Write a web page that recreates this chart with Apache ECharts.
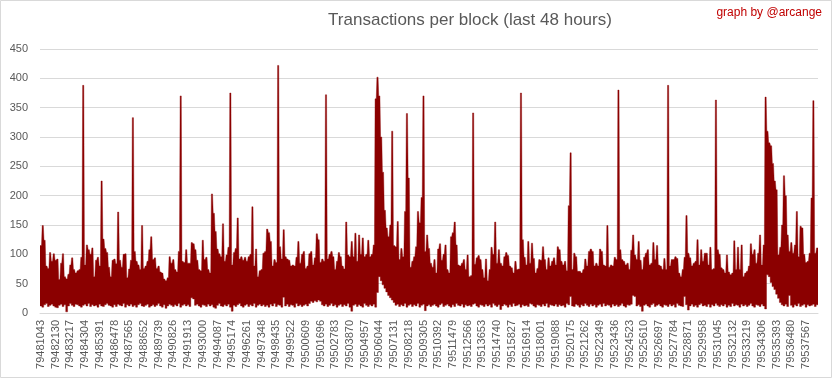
<!DOCTYPE html>
<html><head><meta charset="utf-8">
<script src="https://cdn.jsdelivr.net/npm/echarts@6/dist/echarts.min.js"></script>
<style>html,body{margin:0;padding:0;background:#fff}#c{width:833px;height:379px}</style>
</head><body><div id="c"></div>
<script>
const tickLabels = ['79481043','79482130','79483217','79484304','79485391','79486478','79487565','79488652','79489739','79490826','79491913','79493000','79494087','79495174','79496261','79497348','79498435','79499522','79500609','79501696','79502783','79503870','79504957','79506044','79507131','79508218','79509305','79510392','79511479','79512566','79513653','79514740','79515827','79516914','79518001','79519088','79520175','79521262','79522349','79523436','79524523','79525610','79526697','79527784','79528871','79529958','79531045','79532132','79533219','79534306','79535393','79536480','79537567'];

// max transactions per block within each group of blocks (8 groups per labelled interval)
const hi = [
115,149,124,80,76,103,88,101,90,92,
57,85,101,62,58,66,82,94,74,68,
72,74,95,388,82,116,108,100,111,62,
90,95,80,225,126,110,103,78,62,90,
92,84,172,90,78,100,101,60,75,90,
333,105,88,82,74,149,76,80,88,108,
130,91,94,76,80,70,68,58,55,60,
96,
85,91,74,70,105,370,88,86,108,
85,85,120,118,108,90,74,72,124,91,
95,74,68,203,170,139,109,101,96,152,
88,99,112,375,82,103,110,162,92,96,
90,95,88,96,100,181,80,109,62,72,
74,102,105,143,137,122,80,91,86,422,
113,92,142,96,92,90,80,82,80,95,
122,85,
100,105,76,80,101,105,82,94,
135,125,86,92,88,372,92,100,105,96,
74,88,103,96,80,75,155,99,96,122,
96,136,88,133,100,128,96,100,124,96,
100,116,365,402,370,300,240,175,145,130,
150,310,115,113,156,91,110,96,173,340,
230,78,88,96,113,173,154,197,370,105,
133,110,
85,78,91,68,109,118,90,100,
116,74,68,130,137,155,116,82,80,85,
91,74,99,62,64,341,83,94,98,91,
74,60,92,55,74,112,100,155,85,108,
85,80,96,103,98,80,77,68,88,74,
75,375,125,95,82,122,85,119,93,68,
76,91,90,113,91,74,94,80,88,94,
82,113,108,
88,82,88,72,183,273,74,
102,96,71,71,68,74,92,80,105,109,
105,80,85,80,109,105,82,80,149,78,
82,80,95,91,380,108,91,88,82,85,
74,107,133,99,91,122,90,74,95,102,
108,82,85,120,91,115,82,80,74,93,
74,388,80,91,91,96,93,68,62,74,
95,166,102,
94,80,85,88,125,82,108,
88,102,102,82,112,74,76,363,108,100,
77,74,68,99,70,65,68,123,74,112,
74,116,62,68,71,80,118,100,108,85,
102,133,82,116,368,310,290,285,255,225,
210,99,112,150,234,200,133,105,120,102,
116,173,96,148,145,100,86,88,102,196,
362,102,111
];

// min transactions per block within each group
const lo = [
12,10,14,16,11,13,15,12,10,9,
13,15,11,14,2,12,16,13,11,15,
14,12,10,13,15,12,16,11,14,12,
13,10,15,12,11,14,16,13,12,10,
14,11,15,13,12,16,10,14,12,15,
11,13,10,14,16,12,11,13,15,10,
12,14,11,13,16,12,10,14,8,12,
15,13,11,14,12,16,10,13,15,12,
14,11,26,24,13,15,12,10,14,13,
11,15,12,14,10,8,13,16,12,11,
14,12,15,10,3,13,11,14,16,12,
10,13,15,11,14,12,16,10,13,15,
12,14,11,13,10,15,12,16,11,14,
13,10,27,12,15,11,14,13,10,16,
12,14,11,13,15,12,16,20,18,21,
19,22,20,14,12,15,11,13,16,12,
14,10,13,15,11,14,12,16,10,3,
13,15,11,14,12,10,16,13,11,14,
12,15,10,35,62,55,48,42,36,30,
26,22,18,13,15,11,14,12,16,10,
13,15,11,14,12,16,10,13,15,4,
12,14,11,13,15,12,10,14,16,11,
13,15,12,10,14,11,16,13,12,15,
10,14,12,13,11,15,16,12,10,14,
13,11,15,12,14,10,16,13,11,14,
6,12,15,13,10,14,11,16,12,13,
15,10,14,12,13,11,16,15,12,10,
14,13,11,15,12,16,10,14,13,12,
15,11,14,12,13,10,16,14,28,12,
11,15,13,10,14,12,16,13,11,15,
12,14,10,13,15,11,16,12,14,13,
10,15,12,14,11,13,16,12,10,14,
13,15,30,28,12,14,11,3,13,15,
12,10,14,16,11,13,15,12,10,14,
13,11,15,12,14,10,16,13,12,11,
28,14,5,12,15,11,13,10,14,16,
12,13,11,15,10,14,12,16,13,11,
14,12,15,10,13,11,16,12,14,13,
10,15,12,14,11,13,16,12,10,14,
13,11,15,12,7,65,62,52,45,40,
32,25,18,14,12,15,11,30,13,10,
14,12,16,11,13,15,10,14,12,13,
15,11,14
];

const SUB = 8; // groups per labelled interval
const cats = hi.map((v, i) => (i % SUB === 0 ? tickLabels[i / SUB] : '_' + i));
const rows = hi.map((v, i) => [i, lo[i], hi[i]]);

const chart = echarts.init(document.getElementById('c'), null, {renderer: 'canvas'});
const FONT = '"Liberation Sans", Arial, sans-serif';
chart.setOption({
  animation: false,
  backgroundColor: '#fff',
  grid: {left: 40, right: 15, top: 49, bottom: 66},
  xAxis: {
    type: 'category', data: cats, boundaryGap: true,
    axisLine: {lineStyle: {color: '#d9d9d9'}},
    axisTick: {show: false},
    splitLine: {show: false},
    axisLabel: {interval: SUB - 1, rotate: 90, color: '#595959', fontSize: 11, fontFamily: FONT, margin: 7}
  },
  yAxis: {
    type: 'value', min: 0, max: 450, interval: 50,
    axisLine: {show: false}, axisTick: {show: false},
    splitLine: {lineStyle: {color: '#d9d9d9', width: 1}},
    axisLabel: {color: '#595959', fontSize: 11, fontFamily: FONT, margin: 12}
  },
  series: [{
    type: 'custom',
    data: rows,
    encode: {x: 0, y: [1, 2]},
    clip: true,
    renderItem: function (params, api) {
      if (params.dataIndex !== 0) return null;
      const bw = api.size([1, 0])[0];
      const hw = bw * 0.32;
      const top = [], bot = [];
      for (let b = 0; b < rows.length; b++) {
        const pH = api.coord([rows[b][0], rows[b][2]]);
        const pL = api.coord([rows[b][0], rows[b][1]]);
        top.push([pH[0] - hw, pH[1]], [pH[0] + hw, pH[1]]);
        bot.push([pL[0] - bw / 2, pL[1]], [pL[0] + bw / 2, pL[1]]);
      }
      const first = api.coord([rows[0][0], rows[0][2]]);
      const last = api.coord([rows[rows.length - 1][0], rows[rows.length - 1][2]]);
      top.unshift([first[0] - bw / 2, first[1]]);
      top.push([last[0] + bw / 2, last[1]]);
      return {type: 'polygon', shape: {points: top.concat(bot.reverse())}, style: {fill: '#8b0000', stroke: '#8b0000', lineWidth: 0.4}};
    }
  }],
  graphic: [
    {type: 'rect', shape: {x: 0.5, y: 0.5, width: 831, height: 377}, style: {fill: 'none', stroke: '#d9d9d9', lineWidth: 1}, z: 10},
    {type: 'text', x: 470, y: 20, style: {text: 'Transactions per block (last 48 hours)', fill: '#595959', fontSize: 17, fontFamily: FONT, align: 'center', verticalAlign: 'middle'}, z: 10},
    {type: 'text', x: 822, y: 13, style: {text: 'graph by @arcange', fill: '#c00000', fontSize: 12, fontFamily: FONT, align: 'right', verticalAlign: 'middle'}, z: 10}
  ]
});
</script>
</body></html>
